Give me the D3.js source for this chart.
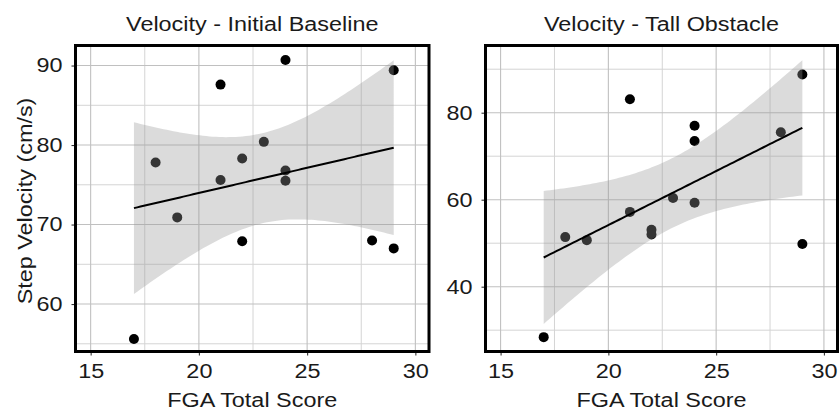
<!DOCTYPE html>
<html>
<head>
<meta charset="utf-8">
<script src="https://cdn.jsdelivr.net/npm/d3@7"></script>
<style>
  body { margin: 0; background: #fff; }
  text { font-family: "Liberation Sans", Arial, sans-serif; }
</style>
</head>
<body>
<div id="main"></div>
<script>
//chart size
const width = 839;
const height = 410;

//data: FGA score and step velocity for each subject
const fgaScores = [17, 18, 19, 21, 21, 22, 22, 23, 24, 24, 24, 28, 29, 29];
const baselineVelocity = [55.6, 77.8, 70.9, 87.6, 75.6, 78.3, 67.9, 80.4, 90.7, 76.8, 75.5, 68.0, 89.4, 67.0];
const obstacleFga = [17, 18, 19, 21, 21, 22, 22, 23, 24, 24, 24, 28, 29, 29];
const obstacleVelocity = [28.4, 51.4, 50.7, 83.1, 57.2, 53.1, 52.0, 60.4, 77.0, 73.5, 59.3, 75.5, 88.8, 49.8];

//tick labels
const xTicks = [15, 20, 25, 30];
const baselineYTicks = [60, 70, 80, 90];
const obstacleYTicks = [40, 60, 80];

//the original text is a bit wider than Liberation Sans
const textStretch = 1.17;

const svg = d3.select('#main')
              .append('svg')
              .attr('width', width)
              .attr('height', height);

//linear fit with 95% confidence band (like geom_smooth(method = "lm"))
function fitLine(xs, ys){
  const n = xs.length;
  const mx = d3.mean(xs), my = d3.mean(ys);
  let sxx = 0, sxy = 0;
  xs.forEach((x, i) => { sxx += (x - mx) * (x - mx); sxy += (x - mx) * (ys[i] - my); });
  const b = sxy / sxx, a = my - b * mx;
  let sse = 0;
  xs.forEach((x, i) => { const r = ys[i] - (a + b * x); sse += r * r; });
  const s = Math.sqrt(sse / (n - 2));
  const t = 2.1788; // t quantile, df = 12
  const lo = d3.min(xs), hi = d3.max(xs);
  return d3.range(80).map(k => {
    const x = lo + (hi - lo) * k / 79;
    const fit = a + b * x;
    const se = s * Math.sqrt(1 / n + (x - mx) * (x - mx) / sxx);
    return {x: x, y: fit, lo: fit - t * se, hi: fit + t * se};
  });
}

function panel(opts){
  const left = opts.left, right = opts.right, top = 45.5, bottom = 351.5;
  const xScale = d3.scaleLinear().domain([14.3, 30.63]).range([left, right]);
  const yScale = d3.scaleLinear().domain(opts.yDomain).range([bottom, top]);
  const g = svg.append('g');

  //minor grid
  const xMinor = [17.5, 22.5, 27.5];
  g.selectAll('.xminor').data(xMinor).enter().append('line')
   .attr('x1', d => xScale(d)).attr('x2', d => xScale(d))
   .attr('y1', top).attr('y2', bottom)
   .attr('stroke', '#d4d4d4').attr('stroke-width', 1);
  g.selectAll('.yminor').data(opts.yMinor).enter().append('line')
   .attr('y1', d => yScale(d)).attr('y2', d => yScale(d))
   .attr('x1', left).attr('x2', right)
   .attr('stroke', '#d4d4d4').attr('stroke-width', 1);

  //major grid
  g.selectAll('.xmajor').data(xTicks).enter().append('line')
   .attr('x1', d => xScale(d)).attr('x2', d => xScale(d))
   .attr('y1', top).attr('y2', bottom)
   .attr('stroke', '#c0c0c0').attr('stroke-width', 1.1);
  g.selectAll('.ymajor').data(opts.yTicks).enter().append('line')
   .attr('y1', d => yScale(d)).attr('y2', d => yScale(d))
   .attr('x1', left).attr('x2', right)
   .attr('stroke', '#c0c0c0').attr('stroke-width', 1.1);

  //points
  g.selectAll('.dot').data(opts.xs).enter().append('circle')
   .attr('cx', d => xScale(d))
   .attr('cy', (d, i) => yScale(opts.ys[i]))
   .attr('r', 5)
   .attr('fill', '#000');

  //smooth band and line
  const fit = fitLine(opts.xs, opts.ys);
  g.append('path').datum(fit)
   .attr('d', d3.area().x(d => xScale(d.x)).y0(d => yScale(d.lo)).y1(d => yScale(d.hi)))
   .attr('fill', '#999').attr('fill-opacity', 0.35);
  g.append('path').datum(fit)
   .attr('d', d3.line().x(d => xScale(d.x)).y(d => yScale(d.y)))
   .attr('fill', 'none').attr('stroke', '#000').attr('stroke-width', 2);

  //axes
  const xAxis = d3.axisBottom(xScale).tickValues(xTicks).tickSize(4).tickPadding(8);
  const yAxis = d3.axisLeft(yScale).tickValues(opts.yTicks).tickSize(4).tickPadding(9);
  const gx = g.append('g').attr('transform', 'translate(0,' + bottom + ')').call(xAxis);
  const gy = g.append('g').attr('transform', 'translate(' + left + ',0)').call(yAxis);
  [gx, gy].forEach(a => {
    a.select('.domain').remove();
    a.selectAll('line').attr('stroke', '#333').attr('stroke-width', 1.1);
    a.selectAll('text').attr('fill', '#1a1a1a').style('font-size', '20px')
     .style('font-family', '"Liberation Sans", Arial, sans-serif');
  });

  //panel border
  g.append('rect')
   .attr('x', left).attr('y', top)
   .attr('width', right - left).attr('height', bottom - top)
   .attr('fill', 'none').attr('stroke', '#000').attr('stroke-width', 3);

  //title and x label
  g.append('text')
   .attr('x', (left + right) / 2).attr('y', 31)
   .attr('text-anchor', 'middle').style('font-size', '20px').attr('fill', '#1a1a1a')
   .text(opts.title);
  g.append('text')
   .attr('x', (left + right) / 2).attr('y', 407)
   .attr('text-anchor', 'middle').style('font-size', '20px').attr('fill', '#1a1a1a')
   .text('FGA Total Score');
}

panel({left: 75.5, right: 429, yDomain: [54.03, 92.52], yTicks: baselineYTicks,
       yMinor: [55, 65, 75, 85], xs: fgaScores, ys: baselineVelocity,
       title: 'Velocity - Initial Baseline'});
panel({left: 485.5, right: 837.5, yDomain: [25.1, 95.45], yTicks: obstacleYTicks,
       yMinor: [30, 50, 70, 90], xs: obstacleFga, ys: obstacleVelocity,
       title: 'Velocity - Tall Obstacle'});

//y axis label
svg.append('text')
   .attr('transform', 'translate(32,201) rotate(-90)')
   .attr('text-anchor', 'middle').style('font-size', '20px').attr('fill', '#1a1a1a')
   .text('Step Velocity (cm/s)');

//widen all text a little
svg.selectAll('text').each(function(){
  const w = this.getComputedTextLength();
  d3.select(this).attr('textLength', w * textStretch).attr('lengthAdjust', 'spacingAndGlyphs');
});
</script>
</body>
</html>
